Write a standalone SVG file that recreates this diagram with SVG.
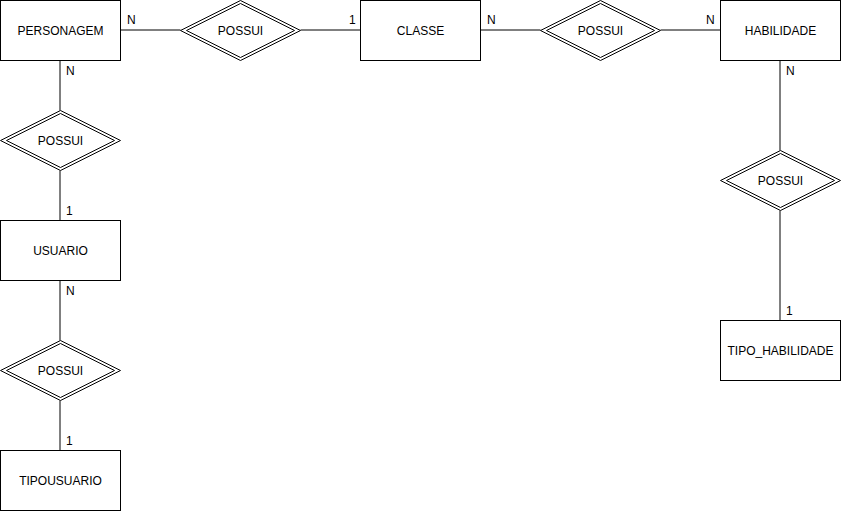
<svg xmlns="http://www.w3.org/2000/svg" width="841" height="511" viewBox="0 0 841 511">
<style>
.ent{fill:#fff;stroke:#000;stroke-width:1}
.rel{fill:#fff;stroke:#000;stroke-width:1}
.inner{fill:none;stroke:#000;stroke-width:1}
.c{stroke:#000;stroke-width:1;fill:none}
text{font-family:"Liberation Sans",Arial,sans-serif;font-size:12px;fill:#000}
.m{text-anchor:middle;dominant-baseline:central}
</style>
<rect width="841" height="511" fill="#fff"/>
<g id="connectors">
<path class="c" d="M120.5 30H180.5"/>
<path class="c" d="M300.5 30H360.5"/>
<path class="c" d="M480.5 30H540.5"/>
<path class="c" d="M660.5 30H720.5"/>
<path class="c" d="M780 60.5V150.5"/>
<path class="c" d="M780 210.5V320.5"/>
<path class="c" d="M60 60.5V110.5"/>
<path class="c" d="M60 170.5V220.5"/>
<path class="c" d="M60 280.5V340.5"/>
<path class="c" d="M60 400.5V450.5"/>
<text x="127" y="24">N</text>
<text x="349" y="24">1</text>
<text x="487" y="24">N</text>
<text x="706" y="24">N</text>
<text x="786" y="75">N</text>
<text x="786" y="315">1</text>
<text x="66" y="75">N</text>
<text x="66" y="215">1</text>
<text x="66" y="295">N</text>
<text x="66" y="445">1</text>
</g>
<g id="personagem"><rect class="ent" x="0.5" y="0.5" width="120" height="60"/><text class="m" x="60.5" y="30.5">PERSONAGEM</text></g>
<g id="classe"><rect class="ent" x="360.5" y="0.5" width="120" height="60"/><text class="m" x="420.5" y="30.5">CLASSE</text></g>
<g id="habilidade"><rect class="ent" x="720.5" y="0.5" width="120" height="60"/><text class="m" x="780.5" y="30.5">HABILIDADE</text></g>
<g id="tipo_habilidade"><rect class="ent" x="720.5" y="320.5" width="120" height="60"/><text class="m" x="780.5" y="350.5">TIPO_HABILIDADE</text></g>
<g id="usuario"><rect class="ent" x="0.5" y="220.5" width="120" height="60"/><text class="m" x="60.5" y="250.5">USUARIO</text></g>
<g id="tipousuario"><rect class="ent" x="0.5" y="450.5" width="120" height="60"/><text class="m" x="60.5" y="480.5">TIPOUSUARIO</text></g>
<defs>
<g id="dd">
<path class="rel" d="M0 -30L60 0L0 30L-60 0Z"/>
<path class="inner" d="M0 -27L54 0L0 27L-54 0Z"/>
</g>
</defs>
<g id="possui1"><use href="#dd" x="240.5" y="30.5"/><text class="m" x="240.5" y="30.5">POSSUI</text></g>
<g id="possui2"><use href="#dd" x="600.5" y="30.5"/><text class="m" x="600.5" y="30.5">POSSUI</text></g>
<g id="possui3"><use href="#dd" x="780.5" y="180.5"/><text class="m" x="780.5" y="180.5">POSSUI</text></g>
<g id="possui4"><use href="#dd" x="60.5" y="140.5"/><text class="m" x="60.5" y="140.5">POSSUI</text></g>
<g id="possui5"><use href="#dd" x="60.5" y="370.5"/><text class="m" x="60.5" y="370.5">POSSUI</text></g>
</svg>
